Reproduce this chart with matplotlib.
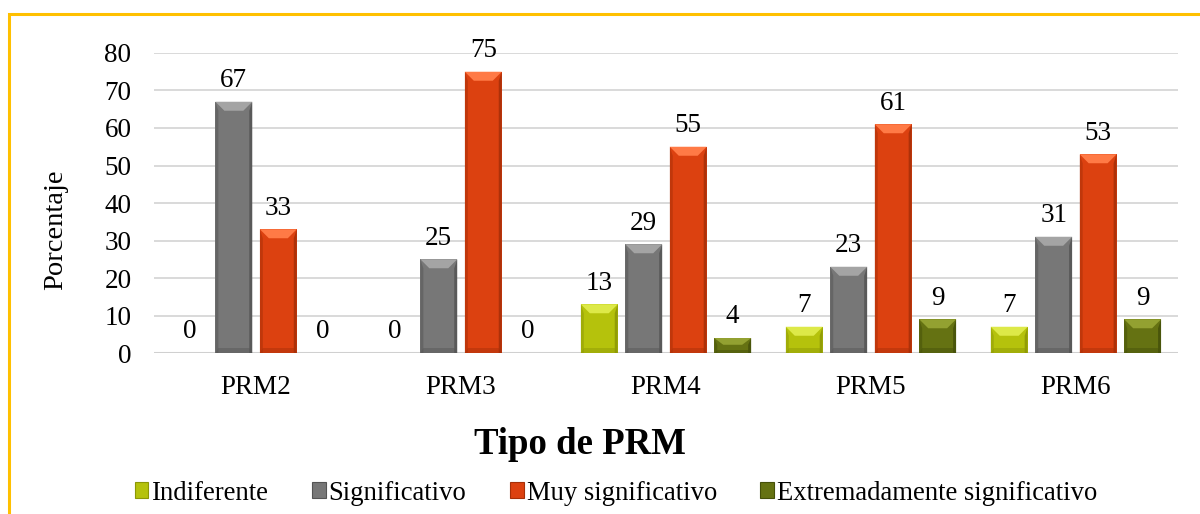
"""Bar chart: porcentaje por tipo de PRM y nivel de significancia."""
import matplotlib
matplotlib.use('Agg')
import matplotlib.pyplot as plt
import numpy as np
from matplotlib.patches import Polygon, Patch
from matplotlib.lines import Line2D

plt.rcParams['font.family'] = ['Liberation Serif', 'DejaVu Serif']

categories = ['PRM2', 'PRM3', 'PRM4', 'PRM5', 'PRM6']
series = ['Indiferente', 'Significativo', 'Muy significativo',
          'Extremadamente significativo']
indiferente = [0, 0, 13, 7, 7]
significativo = [67, 25, 29, 23, 31]
muy_signif = [33, 75, 55, 61, 53]
extremadamente = [0, 0, 4, 9, 9]
values = [indiferente, significativo, muy_signif, extremadamente]

# (face, top bevel, side shade)
palette = [
    ('#B5C20C', '#DDE948', '#8C9706'),
    ('#777777', '#A4A4A4', '#545454'),
    ('#DC4110', '#FF7A46', '#A52F08'),
    ('#657212', '#93A131', '#45500A'),
]

fig = plt.figure(figsize=(12, 5.14), dpi=100)
ax = fig.add_axes([0.128, 0.3132, 0.854, 0.5837])

x = np.arange(len(categories))
step = 0.217
width = 0.18

ax.set_ylim(0, 80)
ax.set_xlim(-0.5, len(categories) - 0.5)

# pixel -> data conversion for the bevel shapes
pos = ax.get_position()
px_x = (len(categories)) / (fig.get_figwidth() * fig.dpi * pos.width)
px_y = 80 / (fig.get_figheight() * fig.dpi * pos.height)

for i, (vals, (face, light, dark)) in enumerate(zip(values, palette)):
    offs = (i - 1.5) * step
    bars = ax.bar(x + offs, vals, width, color=face, zorder=3, linewidth=0)
    for rect, v in zip(bars, vals):
        if v <= 0:
            continue
        x0 = rect.get_x()
        x1 = x0 + rect.get_width()
        h = rect.get_height()
        bx = 9 * px_x
        by = min(9 * px_y, h * 0.45)
        sx = 3 * px_x
        bb = min(5 * px_y, h * 0.2)
        # darker base band
        ax.add_patch(Polygon([(x0, 0), (x1, 0), (x1 - sx, bb), (x0 + sx, bb)],
                             closed=True, color=dark, alpha=0.45, lw=0, zorder=4))
        # side shading
        ax.add_patch(Polygon([(x0, 0), (x0, h), (x0 + sx, h - by), (x0 + sx, 0)],
                             closed=True, color=dark, alpha=0.5, lw=0, zorder=4))
        ax.add_patch(Polygon([(x1, 0), (x1, h), (x1 - sx, h - by), (x1 - sx, 0)],
                             closed=True, color=dark, alpha=0.85, lw=0, zorder=4))
        # top bevel
        ax.add_patch(Polygon([(x0, h), (x1, h), (x1 - bx, h - by), (x0 + bx, h - by)],
                             closed=True, color=light, lw=0, zorder=5))
    for xi, v in zip(x + offs, vals):
        ax.annotate(f'{v}', (xi, v), xytext=(0, 10.5), textcoords='offset points',
                    ha='center', va='baseline', fontsize=19.5, color='black',
                    zorder=6)

# grid and zero line
ax.set_yticks(range(0, 81, 10))
ax.yaxis.grid(True, color='#D9D9D9', linewidth=1.4, zorder=0)
ax.axhline(0, color='#D0D0D0', linewidth=2.2, zorder=2)
for s in ax.spines.values():
    s.set_visible(False)
ax.tick_params(axis='y', length=0, pad=16, labelsize=19.5)
ax.set_xticks(x)
ax.set_xticklabels(categories)
ax.tick_params(axis='x', length=0, pad=16, labelsize=19.5)

fig.text(56 / 1200, 1 - 230 / 514, 'Porcentaje', rotation=90,
         ha='center', va='center', fontsize=20.5)
fig.text(580 / 1200, 1 - 445 / 514, 'Tipo de PRM', ha='center', va='center',
         fontsize=26.5, fontweight='bold')

handles = [Patch(facecolor=p[0], edgecolor=p[2], linewidth=0.8) for p in palette]
fig.legend(handles, series, loc='center', bbox_to_anchor=(616 / 1200, 1 - 493 / 514),
           ncol=4, frameon=False, fontsize=19.2, handlelength=0.52,
           handleheight=0.52, handletextpad=0.12, columnspacing=1.62, borderpad=0)

# gold frame on the top and left edges
ytop = 1 - 13.5 / 514
xl = 8.5 / 1200
fig.add_artist(Line2D([xl, xl, 1.0], [0.0, ytop, ytop], color='#FFC000',
                      linewidth=2.2, solid_joinstyle='miter'))

fig.savefig('out.png', dpi=100, facecolor='white')
